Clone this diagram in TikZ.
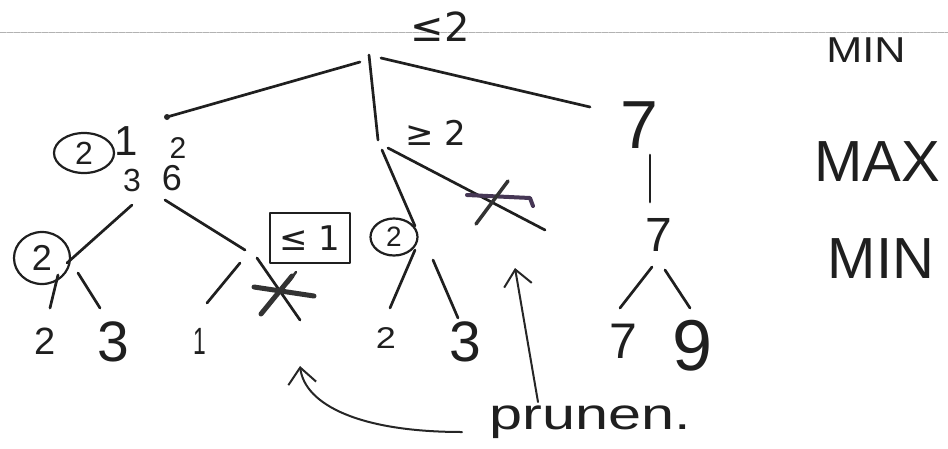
\documentclass[tikz,border=0pt]{standalone}
\usepackage{fontspec}
\setmainfont{Liberation Sans}
\newfontfamily\symf{DejaVu Sans}
\usetikzlibrary{arrows.meta,shapes.geometric}
\newcommand\hsz[1]{\fontsize{#1}{#1}\selectfont}
\begin{document}
\begin{tikzpicture}[x=1pt,y=-1pt,line cap=round,line join=round,
  ink/.style={line width=2.7pt,black!88},
  thin ink/.style={line width=2pt,black!85},
  txt/.style={inner sep=0pt,text=black!88},
  ring/.style={draw=black!88,ellipse,line width=2.2pt,inner sep=0pt,text=black!88},
  cross/.style={line width=5pt,black!80},
  pcross/.style={line width=4pt,draw={rgb,255:red,70;green,55;blue,85}},
  barb/.style={-{Straight Barb[length=16pt,width=28pt,line width=2pt]}}]
\useasboundingbox (0,0) rectangle (948,448);
% scan line
\draw[gray!60,line width=0.9pt,dash pattern=on 6pt off 1pt] (0,32) -- (948,32);
% level labels
\node[txt,font=\hsz{36},xscale=1.2] (lmin1) at (866,50) {MIN};
\node[txt,font=\hsz{58}] (lmax) at (877,162) {MAX};
\node[txt,font=\hsz{58}] (lmin2) at (881,259) {MIN};
% root
\node[txt,font=\symf\hsz{40}] (rootval) at (440,27) {≤2};
\coordinate (rootL) at (360,62);
\coordinate (rootM) at (369,55);
\coordinate (rootR) at (381,58);
\coordinate (lmaxTop) at (167,117);
\coordinate (mmaxTop) at (378,140);
\coordinate (rmaxTop) at (590,107);
\draw[ink] (rootL) -- (lmaxTop);
\draw[ink] (rootM) -- (mmaxTop);
\draw[ink] (rootR) -- (rmaxTop);
\fill[black!85] (lmaxTop) circle (3pt);
% left MAX node
\node[ring,minimum width=60pt,minimum height=40pt,font=\hsz{32}] (lmaxc) at (84,153) {2};
\node[txt,font=\hsz{42}] (lm1) at (126,141) {1};
\node[txt,font=\hsz{30}] (lm2) at (178,148) {2};
\node[txt,font=\hsz{32}] (lm3) at (132,180) {3};
\node[txt,font=\hsz{36}] (lm6) at (172,178) {6};
\coordinate (lmBL) at (132,205);
\coordinate (lmBR) at (165,200);
% left MIN (circled 2)
\node[ring,minimum width=56pt,minimum height=52pt,font=\hsz{36}] (lminc) at (42,258) {2};
\coordinate (lminTop) at (67,263);
\draw[ink] (lmBL) -- (lminTop);
\coordinate (lmnL) at (58,275);
\coordinate (lmnR) at (78,273);
\coordinate (lf1t) at (50,308);
\coordinate (lf2t) at (100,308);
\draw[ink] (lmnL) -- (lf1t);
\draw[ink] (lmnR) -- (lf2t);
\node[txt,font=\hsz{38}] (lf1) at (45,341) {2};
\node[txt,font=\hsz{57}] (lf2) at (113,342) {3};
% <=1 node
\node[draw=black!88,line width=2.4pt,minimum width=80pt,minimum height=50pt,
      inner sep=0pt,text=black!88,font=\symf\hsz{34}] (le1) at (310,238) {≤ 1};
\coordinate (le1In) at (245,250);
\draw[ink] (lmBR) -- (le1In);
\coordinate (le1L) at (240,263);
\coordinate (le1R) at (257,258);
\coordinate (lf3t) at (207,303);
\coordinate (cutA) at (300,320);
\draw[ink] (le1L) -- (lf3t);
\draw[ink] (le1R) -- (cutA);
\node[txt,font=\hsz{38},xscale=0.6] (lf3) at (200,341) {1};
\draw[cross] (254,287) -- (314,296);
\draw[cross] (261,314) -- (292,276);
\draw[line width=2.5pt,black!80] (288,283) -- (296,272);
% middle MAX
\node[txt,font=\symf\hsz{34}] (mmaxv) at (436,133) {≥ 2};
\coordinate (mmB1) at (382,150);
\coordinate (mmB2) at (388,148);
\coordinate (mminIn) at (415,226);
\coordinate (cutB) at (545,230);
\draw[ink] (mmB1) -- (mminIn);
\draw[ink] (mmB2) -- (cutB);
\draw[pcross] (467,195) -- (530,198) -- (533,206);
\draw[line width=3.5pt,black!80] (476,224) -- (508,181);
% middle MIN
\node[ring,minimum width=47pt,minimum height=37pt,font=\hsz{28}] (mminc) at (394,237) {2};
\coordinate (mmnL) at (415,250);
\coordinate (mmnR) at (433,260);
\coordinate (mf1t) at (390,308);
\coordinate (mf2t) at (458,318);
\draw[ink] (mmnL) -- (mf1t);
\draw[ink] (mmnR) -- (mf2t);
\node[txt,font=\hsz{30},xscale=1.2] (mf1) at (386,338) {2};
\node[txt,font=\hsz{57}] (mf2) at (465,342) {3};
% right MAX
\node[txt,font=\hsz{68}] (rmaxv) at (639,125) {7};
\coordinate (rmB) at (650,155);
\coordinate (rminT) at (650,202);
\draw[ink] (rmB) -- (rminT);
\node[txt,font=\hsz{48}] (rminv) at (659,235) {7};
\coordinate (rmnL) at (652,267);
\coordinate (rmnR) at (665,270);
\coordinate (rf1t) at (620,308);
\coordinate (rf2t) at (690,308);
\draw[ink] (rmnL) -- (rf1t);
\draw[ink] (rmnR) -- (rf2t);
\node[txt,font=\hsz{50}] (rf1) at (623,341) {7};
\node[txt,font=\hsz{72}] (rf2) at (693,346) {9};
% pruned annotation
\node[txt,font=\hsz{44},xscale=1.35] (pr) at (590,422) {prunen.};
\coordinate (prA) at (538,402);
\coordinate (prAt) at (515,268);
\coordinate (prB) at (462,432);
\coordinate (prBt) at (300,366);
\draw[thin ink,barb] (prA) -- (prAt);
\draw[thin ink,barb] (prB) .. controls (360,432) and (305,405) .. (prBt);
\end{tikzpicture}
\end{document}
